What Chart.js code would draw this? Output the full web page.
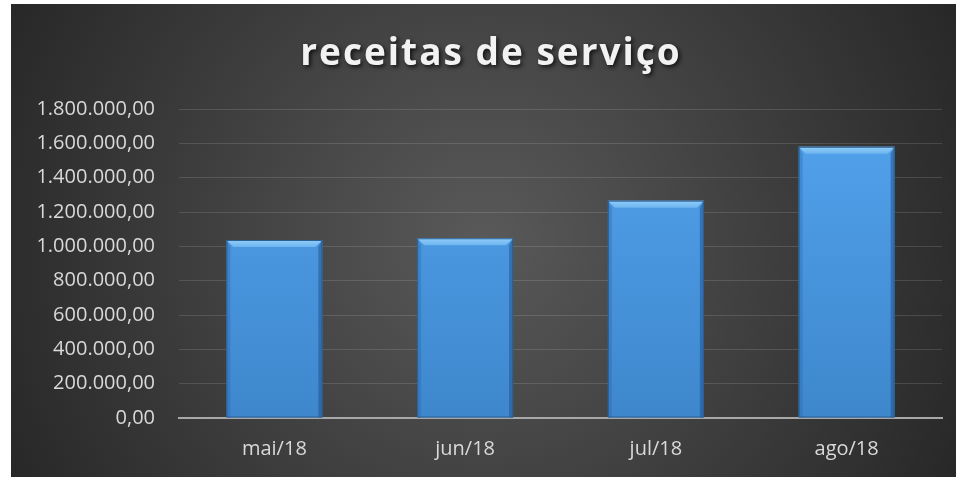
<!DOCTYPE html>
<html>
<head>
<meta charset="utf-8">
<script src="https://cdn.jsdelivr.net/npm/chart.js@4"></script>
<style>
  body { margin: 0; background: #ffffff; }
  #wrap { position: absolute; left: 11px; top: 4px; width: 945px; height: 473px; }
</style>
</head>
<body>
<div id="wrap"><canvas id="chart" width="945" height="473"></canvas></div>
<script>
const titleText = 'receitas de serviço';
const months = ['mai/18', 'jun/18', 'jul/18', 'ago/18'];
const revenues = [1037000, 1047000, 1266000, 1580000];
const yMax = 1800000;
const yStep = 200000;

// pt-BR style number: 1.800.000,00
function formatBR(value) {
    const parts = value.toFixed(2).split('.');
    const intPart = parts[0].replace(/\B(?=(\d{3})+(?!\d))/g, '.');
    return intPart + ',' + parts[1];
}

// Dark radial background behind everything
const backgroundPlugin = {
    id: 'background',
    beforeDraw(chart) {
        const ctx = chart.ctx;
        const w = chart.width, h = chart.height;
        const grad = ctx.createRadialGradient(w / 2, h * 0.5, 0, w / 2, h * 0.5, w * 0.6);
        grad.addColorStop(0, '#595959');
        grad.addColorStop(1, '#242424');
        ctx.save();
        ctx.fillStyle = grad;
        ctx.fillRect(0, 0, w, h);
        ctx.restore();
    }
};

// Title with letter spacing and a soft shadow
const titlePlugin = {
    id: 'fancyTitle',
    afterDraw(chart) {
        const ctx = chart.ctx;
        ctx.save();
        ctx.font = 'bold 37px "Open Sans"';
        ctx.letterSpacing = '2px';
        ctx.textAlign = 'center';
        ctx.textBaseline = 'alphabetic';
        ctx.shadowColor = 'rgba(0,0,0,0.75)';
        ctx.shadowBlur = 4;
        ctx.shadowOffsetX = 2;
        ctx.shadowOffsetY = 2;
        ctx.fillStyle = '#f2f2f2';
        ctx.fillText(titleText, 480, 61);
        ctx.restore();
    }
};

// Bevel highlight on top of every bar, placed from the bar elements
const bevelPlugin = {
    id: 'bevel',
    afterDatasetsDraw(chart) {
        const ctx = chart.ctx;
        const meta = chart.getDatasetMeta(0);
        const b = 7;
        const s = 4;
        meta.data.forEach(bar => {
            const x0 = bar.x - bar.width / 2;
            const x1 = bar.x + bar.width / 2;
            const top = bar.y;
            const bottom = bar.base;
            ctx.save();
            // left side
            ctx.fillStyle = 'rgba(40,100,170,0.35)';
            ctx.beginPath();
            ctx.moveTo(x0, top);
            ctx.lineTo(x0 + s, top + b);
            ctx.lineTo(x0 + s, bottom);
            ctx.lineTo(x0, bottom);
            ctx.closePath();
            ctx.fill();
            // right side
            ctx.fillStyle = 'rgba(25,70,130,0.45)';
            ctx.beginPath();
            ctx.moveTo(x1, top);
            ctx.lineTo(x1 - s, top + b);
            ctx.lineTo(x1 - s, bottom);
            ctx.lineTo(x1, bottom);
            ctx.closePath();
            ctx.fill();
            // top face
            const g = ctx.createLinearGradient(0, top, 0, top + b);
            g.addColorStop(0, '#93cdf8');
            g.addColorStop(1, '#6cb5f0');
            ctx.fillStyle = g;
            ctx.beginPath();
            ctx.moveTo(x0, top);
            ctx.lineTo(x1, top);
            ctx.lineTo(x1 - b, top + b);
            ctx.lineTo(x0 + b, top + b);
            ctx.closePath();
            ctx.fill();
            // outline
            ctx.strokeStyle = '#2c5f92';
            ctx.lineWidth = 1;
            ctx.strokeRect(x0 + 0.5, top + 0.5, bar.width - 1, bottom - top - 1);
            ctx.restore();
        });
    }
};

const ctx = document.getElementById('chart');

new Chart(ctx, {
    type: 'bar',
    data: {
        labels: months,
        datasets: [{
            data: revenues,
            backgroundColor: (context) => {
                const area = context.chart.chartArea;
                if (!area) return '#4a9be6';
                const g = context.chart.ctx.createLinearGradient(0, area.top, 0, area.bottom);
                g.addColorStop(0, '#53a3ed');
                g.addColorStop(1, '#3e87cd');
                return g;
            },
            borderWidth: 0,
            categoryPercentage: 1,
            barPercentage: 0.503
        }]
    },
    options: {
        responsive: false,
        animation: false,
        layout: {
            padding: { top: 105, right: 14, left: 0, bottom: 0 }
        },
        plugins: {
            legend: { display: false },
            title: { display: false },
            tooltip: { enabled: false }
        },
        scales: {
            x: {
                grid: { display: false, drawTicks: false },
                border: { display: true, color: '#a8a8a8', width: 2 },
                ticks: {
                    color: '#d9d9d9',
                    padding: 19,
                    font: { family: '"Open Sans"', size: 20 }
                },
                afterFit(scale) { scale.height = 59; }
            },
            y: {
                min: 0,
                max: yMax,
                grid: { color: 'rgba(255,255,255,0.13)', lineWidth: 1, drawTicks: false },
                border: { display: false },
                ticks: {
                    stepSize: yStep,
                    color: '#d9d9d9',
                    padding: 24,
                    font: { family: '"Open Sans"', size: 20 },
                    callback: (v) => formatBR(v)
                },
                afterFit(scale) { scale.width = 168; }
            }
        }
    },
    plugins: [backgroundPlugin, bevelPlugin, titlePlugin]
});
</script>
</body>
</html>
